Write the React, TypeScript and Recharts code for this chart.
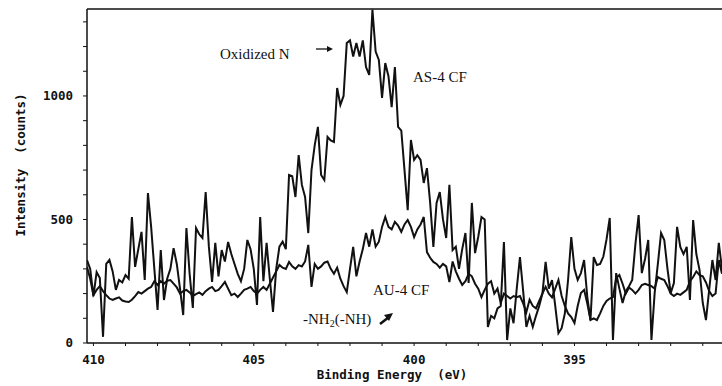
import { LineChart, Line, XAxis, YAxis, ReferenceLine } from "recharts";

// binding energy scan: 410.2 eV down to 390.4 eV, 0.1 eV steps
const E_START = 410.2;
const E_STEP = 0.1;

// AS-4 CF (the oxidized N peak)
const AS4 = [
  336, 300, 190, 287, 263, 25, 320, 336, 290, 215,
  255, 245, 275, 260, 510, 308, 380, 450, 255, 607,
  470, 300, 134, 376, 174, 260, 300, 384, 320, 220,
  113, 465, 280, 142, 465, 440, 425, 611, 390, 247,
  405, 270, 376, 330, 409, 360, 320, 280, 250, 300,
  417, 380, 300, 154, 510, 250, 405, 260, 126, 300,
  390, 410, 380, 680, 675, 591, 761, 640, 591, 445,
  700, 800, 875, 680, 660, 834, 820, 814, 1032, 964,
  1000, 1214, 1225, 1160, 1214, 1160, 1225, 1117, 1085, 1350,
  1180, 1146, 992, 1133, 1080, 955, 1117, 875, 860, 700,
  538, 822, 741, 760, 741, 648, 708, 567, 389, 567,
  611, 500, 425, 640, 376, 390, 300, 380, 445, 243,
  567, 364, 430, 510, 500, 65, 110, 100, 140, 150,
  409, 12, 140, 80, 220, 348, 210, 65, 110, 65,
  110, 150, 200, 328, 220, 255, 150, 40, 60, 120,
  255, 429, 300, 255, 283, 336, 186, 93, 348, 316,
  320, 350, 420, 506, 12, 283, 220, 162, 210, 230,
  255, 400, 518, 283, 340, 417, 12, 202, 320, 445,
  417, 300, 202, 243, 470, 389, 360, 389, 174, 498,
  360, 295, 162, 93, 215, 336, 255, 405, 300,
];

// AU-4 CF (the -NH2 / -NH bump)
const AU4 = [
  308, 260, 194, 215, 230, 210, 194, 180, 174, 180,
  185, 172, 168, 166, 175, 190, 206, 200, 210, 220,
  227, 250, 235, 250, 240, 252, 255, 240, 225, 200,
  210, 215, 205, 190, 198, 205, 195, 210, 220, 227,
  210, 215, 230, 247, 220, 194, 200, 186, 200, 215,
  220, 227, 210, 200, 215, 227, 215, 240, 265, 290,
  316, 305, 300, 328, 310, 300, 315, 310, 330, 397,
  227, 320, 300, 310, 325, 330, 300, 280, 305, 260,
  230, 206, 300, 389, 270, 330, 380, 445, 390, 460,
  390, 410, 470, 510, 470, 460, 490, 475, 450, 480,
  498, 470, 429, 460, 480, 510, 368, 345, 328, 320,
  305, 320, 310, 247, 330, 290, 260, 235, 250, 280,
  270, 240, 220, 186, 215, 240, 250, 200, 220, 162,
  200, 190, 180, 190, 185, 190, 160, 125, 175, 150,
  140, 170, 200, 227, 200, 185, 220, 255, 190, 150,
  120, 105, 81, 150, 202, 215, 160, 93, 100, 93,
  120, 150, 170, 180, 186, 263, 275, 240, 200, 225,
  215, 200, 215, 235, 240, 235, 230, 220, 267, 260,
  255, 230, 200, 190, 200, 195, 205, 215, 250, 267,
  290, 275, 270, 245, 210, 190, 200, 336, 280,
];

const X_TICKS = [410, 409, 408, 407, 406, 405, 404, 403, 402, 401, 400, 399, 398, 397, 396, 395, 394, 393, 392, 391];
const X_LABELS = [410, 405, 400, 395];
const Y_TICKS = [0, 100, 200, 300, 400, 500, 600, 700, 800, 900, 1000, 1100, 1200, 1300];
const Y_LABELS = [0, 500, 1000];

const data = AS4.map((v, i) => ({
  energy: Number((E_START - i * E_STEP).toFixed(1)),
  as4: v,
  au4: AU4[i],
}));

const monoFont = "'DejaVu Sans Mono', monospace";
const serifFont = "'Liberation Serif', 'DejaVu Serif', serif";
const ink = "#111";

const XTick = (props: any) => {
  const { x, y, payload } = props;
  if (!X_LABELS.includes(payload.value)) return <g />;
  return (
    <text x={x} y={y} dy="0.71em" textAnchor="middle" fontFamily={monoFont} fontWeight="bold" fontSize={12.5} fill={ink}>
      {payload.value}
    </text>
  );
};

const YTick = (props: any) => {
  const { x, y, payload } = props;
  if (!Y_LABELS.includes(payload.value)) return <g />;
  return (
    <text x={x} y={y} dy="0.355em" textAnchor="end" fontFamily={monoFont} fontWeight="bold" fontSize={12.5} fill={ink}>
      {payload.value}
    </text>
  );
};

export default function App() {
  return (
    <div style={{ position: "absolute", left: 0, top: 0, width: 722, height: 386, background: "#fff" }}>
      <LineChart width={722} height={386} data={data} margin={{ top: 9, right: 0, bottom: 0, left: 0 }}>
        <XAxis
          type="number"
          dataKey="energy"
          domain={[390.4, 410.2]}
          reversed
          allowDataOverflow
          ticks={X_TICKS}
          interval={0}
          tick={XTick}
          tickSize={3}
          tickMargin={9}
          height={43}
          axisLine={{ stroke: ink, strokeWidth: 1.5 }}
          tickLine={{ stroke: ink }}
        />
        <YAxis
          type="number"
          domain={[0, 1352]}
          allowDataOverflow
          ticks={Y_TICKS}
          interval={0}
          tick={YTick}
          tickSize={4}
          tickMargin={10}
          width={87}
          axisLine={{ stroke: ink, strokeWidth: 1.5 }}
          tickLine={{ stroke: ink }}
        />
        <ReferenceLine y={1352} stroke={ink} strokeWidth={1.5} />
        <Line type="linear" dataKey="au4" stroke={ink} strokeWidth={2} dot={false} isAnimationActive={false} />
        <Line type="linear" dataKey="as4" stroke={ink} strokeWidth={2} dot={false} isAnimationActive={false} />
      </LineChart>
      <svg width={722} height={386} style={{ position: "absolute", left: 0, top: 0, pointerEvents: "none" }}>
        <text x={220} y={59} fontFamily={serifFont} fontSize={15} fill={ink}>Oxidized N</text>
        <line x1={316} y1={49} x2={329} y2={49} stroke={ink} strokeWidth={1.3} />
        <polygon points="333,49 327,46 327,52" fill={ink} />
        <text x={413} y={82} fontFamily={serifFont} fontSize={15} fill={ink}>AS-4 CF</text>
        <text x={373} y={295} fontFamily={serifFont} fontSize={15} fill={ink}>AU-4 CF</text>
        <text x={303} y={324} fontFamily={serifFont} fontSize={15} fill={ink}>
          -NH<tspan fontSize={10} dy={3}>2</tspan><tspan dy={-3}>(-NH)</tspan>
        </text>
        <line x1={380} y1={324} x2={389} y2={317} stroke={ink} strokeWidth={2.5} />
        <polygon points="393,313 384,315 389,321" fill={ink} />
        <text x={392} y={370} dy="0.71em" textAnchor="middle" fontFamily={monoFont} fontWeight="bold" fontSize={12.5} fill={ink} xmlSpace="preserve">
          Binding Energy  (eV)
        </text>
        <text
          x={20}
          y={165}
          textAnchor="middle"
          dominantBaseline="central"
          transform="rotate(-90 20 165)"
          fontFamily={monoFont}
          fontWeight="bold"
          fontSize={12.5}
          fill={ink}
          xmlSpace="preserve"
        >
          Intensity  (counts)
        </text>
      </svg>
    </div>
  );
}
